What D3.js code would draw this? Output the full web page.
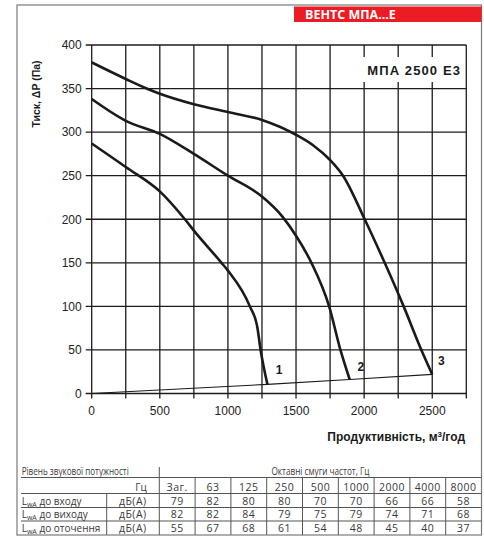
<!DOCTYPE html>
<html><head><meta charset="utf-8">
<script src="https://cdn.jsdelivr.net/npm/d3@7"></script>
<style>
html,body{margin:0;padding:0;background:#fff;}
svg{display:block;}
</style></head>
<body>
<script>
// ---- data ----
const curve1 = [[0,287],[250,260],[500,232],[684,200],[750,187],[953,150],[1000,141],[1161,100],[1215,77],[1240,50],[1290,10.5]];
const curve2 = [[0,338],[250,313],[500,298],[750,275],[1000,250],[1250,226],[1400,203],[1500,181],[1613,150],[1743,100],[1826,50],[1894,16]];
const curve3 = [[0,380],[250,361],[403,350],[500,344],[750,332],[1000,323],[1250,314],[1500,297],[1625,285],[1750,268],[1845,250],[2004,200],[2151,150],[2290,100],[2420,50],[2500,22]];
const systemLine = [[0,0],[1290,10.5],[1894,16],[2500,22]];
const curveLabels = [["1",1376,27],["2",1976,31],["3",2567,37.6]];
const xTicks = [0,250,500,750,1000,1250,1500,1750,2000,2250,2500,2750];
const xTickLabels = [0,500,1000,1500,2000,2500];
const yTicks = [0,50,100,150,200,250,300,350,400];
const bands = ["Заг.","63","125","250","500","1000","2000","4000","8000"];
const inlet = [79,82,80,80,70,70,66,66,58];
const outlet = [82,82,84,79,75,79,74,71,68];
const surround = [55,67,68,61,54,48,45,40,37];
const rowNames = ["до входу","до виходу","до оточення"];
const title = "ВЕНТС МПА...Е";
const model = "МПА 2500 Е3";

const W = 484, H = 539;
const svg = d3.select("body").append("svg").attr("width", W).attr("height", H);

// card frame
svg.append("rect").attr("x",17).attr("y",5).attr("width",464.5).attr("height",530)
  .attr("fill","none").attr("stroke","#7a7a7a").attr("stroke-width",1.2);

// red header
svg.append("rect").attr("x",294).attr("y",6.5).attr("width",187.5).attr("height",15.5).attr("fill","#ec1c24");
svg.append("text").attr("x",305).attr("y",19).text(title)
  .attr("font-family","Open Sans").attr("font-weight","bold").attr("font-size",12.5).attr("fill","#fff");

// scales
const x = d3.scaleLinear().domain([0,2750]).range([91.7,466.3]);
const y = d3.scaleLinear().domain([0,400]).range([393.5,45]);

const g = svg.append("g");
const gridColor = "#1c1c1c";
// grid
g.selectAll("line.vg").data(xTicks).join("line")
  .attr("x1",d=>x(d)).attr("x2",d=>x(d)).attr("y1",y(400)).attr("y2",y(0)+5)
  .attr("stroke",gridColor).attr("stroke-width",1.3);
g.selectAll("line.hg").data(yTicks).join("line")
  .attr("y1",d=>y(d)).attr("y2",d=>y(d)).attr("x1",x(0)-6).attr("x2",x(2750))
  .attr("stroke",gridColor).attr("stroke-width",1.3);

// tick labels
g.selectAll("text.yl").data(yTicks).join("text")
  .attr("x",x(0)-10).attr("y",d=>y(d)).attr("dy","0.36em").attr("text-anchor","end")
  .attr("font-family","Liberation Sans, Arial").attr("font-size",12).attr("fill","#222").text(d=>d);
g.selectAll("text.xl").data(xTickLabels).join("text")
  .attr("x",d=>x(d)).attr("y",y(0)+21).attr("text-anchor","middle")
  .attr("font-family","Liberation Sans, Arial").attr("font-size",12).attr("fill","#222").text(d=>d);

// model label box
svg.append("rect").attr("x",361.5).attr("y",57).attr("width",102).attr("height",25).attr("fill","#fff");
svg.append("text").attr("x",461).attr("y",75).attr("text-anchor","end").text(model)
  .attr("font-family","Liberation Sans, Arial").attr("font-weight","bold").attr("font-size",13)
  .attr("letter-spacing",1.1).attr("fill","#1a1a1a");

// curves
const line = d3.line().x(d=>x(d[0])).y(d=>y(d[1])).curve(d3.curveMonotoneX);
[curve1,curve2,curve3].forEach(c=>{
  svg.append("path").attr("d",line(c)).attr("fill","none").attr("stroke","#1a1a1a")
    .attr("stroke-width",2.6).attr("stroke-linecap","butt").attr("stroke-linejoin","round");
});
svg.append("path").attr("d",d3.line().x(d=>x(d[0])).y(d=>y(d[1]))(systemLine))
  .attr("fill","none").attr("stroke","#1a1a1a").attr("stroke-width",1.1);
svg.selectAll("text.cl").data(curveLabels).join("text")
  .attr("x",d=>x(d[1])).attr("y",d=>y(d[2])).attr("dy","0.36em").attr("text-anchor","middle")
  .attr("font-family","Liberation Sans, Arial").attr("font-weight","bold").attr("font-size",12)
  .attr("fill","#1a1a1a").text(d=>d[0]);

// axis titles
svg.append("text").attr("transform","translate(40,94) rotate(-90)").attr("text-anchor","middle")
  .attr("font-family","Liberation Sans, Arial").attr("font-weight","bold").attr("font-size",10.5)
  .attr("fill","#1a1a1a").text("Тиск, ΔP (Па)");
const xt = svg.append("text").attr("x",465).attr("y",441).attr("text-anchor","end")
  .attr("font-family","Liberation Sans, Arial").attr("font-weight","bold").attr("font-size",12).attr("fill","#1a1a1a");
xt.append("tspan").text("Продуктивність, м");
xt.append("tspan").attr("font-size",8).attr("dy",-4.5).text("3");
xt.append("tspan").attr("dy",4.5).text("/год");

// ---- table ----
const tf = "Open Sans";
const tc = "#3a3a3a";
const lc = "#555";
const colL = 159.3, colR = 481.5;
const cx = d3.scaleBand().domain(bands).range([colL,colR]);
const rowsY = [501,514.5,528];
const tb = svg.append("g");
// horizontal lines
[477.5,493.5,507.5,521].forEach(yy=>{
  tb.append("line").attr("x1",21).attr("x2",colR).attr("y1",yy).attr("y2",yy).attr("stroke",lc).attr("stroke-width",1);
});
// vertical lines
tb.append("line").attr("x1",colL).attr("x2",colL).attr("y1",467).attr("y2",535).attr("stroke",lc).attr("stroke-width",1);
tb.append("line").attr("x1",106.7).attr("x2",106.7).attr("y1",493.5).attr("y2",535).attr("stroke",lc).attr("stroke-width",1);
tb.selectAll("line.cs").data(bands.slice(1)).join("line")
  .attr("x1",d=>cx(d)).attr("x2",d=>cx(d)).attr("y1",477.5).attr("y2",535).attr("stroke",lc).attr("stroke-width",1);

tb.append("text").attr("x",21.7).attr("y",471).attr("dy","0.35em").text("Рівень звукової потужності")
  .attr("font-family",tf).attr("font-size",10).attr("fill",tc).attr("textLength",107).attr("lengthAdjust","spacingAndGlyphs");
tb.append("text").attr("x",(colL+colR)/2).attr("y",471).attr("dy","0.35em").attr("text-anchor","middle").text("Октавні смуги частот, Гц")
  .attr("font-family",tf).attr("font-size",10).attr("fill",tc).attr("textLength",98).attr("lengthAdjust","spacingAndGlyphs");
tb.append("text").attr("x",146.7).attr("y",487.5).attr("dy","0.35em").attr("text-anchor","end").text("Гц")
  .attr("font-family",tf).attr("font-size",10).attr("fill",tc);
tb.selectAll("text.bh").data(bands).join("text")
  .attr("x",d=>cx(d)+cx.bandwidth()/2).attr("y",487.5).attr("dy","0.35em").attr("text-anchor","middle")
  .attr("font-family",tf).attr("font-size",10.5).attr("letter-spacing",0.5).attr("fill",tc).text(d=>d);

[inlet,outlet,surround].forEach((vals,i)=>{
  const yy = rowsY[i];
  const lt = tb.append("text").attr("x",21.7).attr("y",yy).attr("dy","0.35em")
    .attr("font-family",tf).attr("font-size",10).attr("fill",tc);
  lt.append("tspan").text("L");
  lt.append("tspan").attr("font-size",7).attr("dy",2).text("wA");
  lt.append("tspan").attr("dy",-2).text(" "+rowNames[i]);
  tb.append("text").attr("x",146.7).attr("y",yy).attr("dy","0.35em").attr("text-anchor","end").text("дБ(А)")
    .attr("font-family",tf).attr("font-size",10.5).attr("letter-spacing",0.5).attr("fill",tc);
  tb.selectAll("text.v"+i).data(vals).join("text")
    .attr("x",(d,j)=>cx(bands[j])+cx.bandwidth()/2).attr("y",yy).attr("dy","0.35em").attr("text-anchor","middle")
    .attr("font-family",tf).attr("font-size",10.5).attr("letter-spacing",0.5).attr("fill",tc).text(d=>d);
});
</script>
</body></html>
